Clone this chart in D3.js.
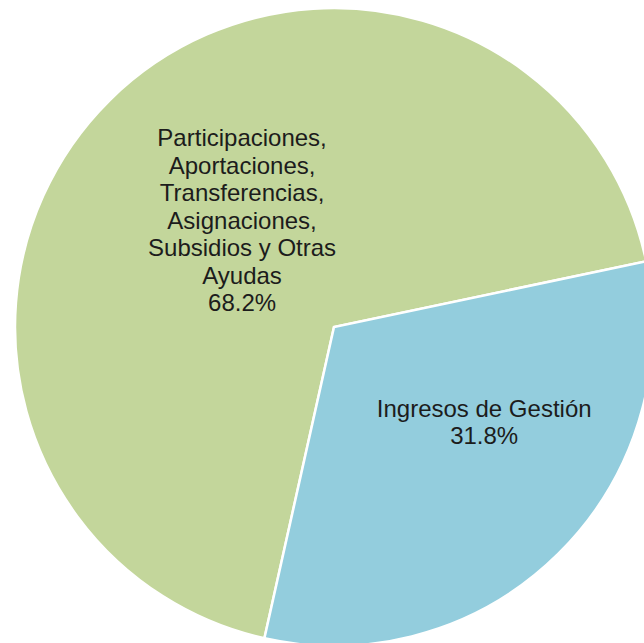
<!DOCTYPE html>
<html>
<head>
<meta charset="utf-8">
<script src="https://cdn.jsdelivr.net/npm/d3@7"></script>
<style>
  html, body { margin: 0; padding: 0; background: #ffffff; }
  svg { display: block; }
</style>
</head>
<body>
<svg id="chart" width="644" height="643"></svg>
<script>
// ---- data ----
const categories = [
  "Participaciones, Aportaciones, Transferencias, Asignaciones, Subsidios y Otras Ayudas",
  "Ingresos de Gestión"
];
const values = [68.2, 31.8];
const labelLines = [
  ["Participaciones,", "Aportaciones,", "Transferencias,", "Asignaciones,", "Subsidios y Otras", "Ayudas"],
  ["Ingresos de Gestión"]
];
const colors = ["#c3d69b", "#93cddd"];

// ---- layout ----
const W = 644, H = 643;
const cx = 334, cy = 327, R = 319;
const startDeg = -167.4;
// label anchor (polar, relative to pie centre: angle in degrees clockwise from 12 o'clock, radius as fraction of R)
const labelPolar = [ { a: -40.7, r: 0.442 }, { a: 122.3, r: 0.557 } ];
const fontSize = 24, lineH = 27.5;

const svg = d3.select("#chart");
const g = svg.append("g").attr("transform", `translate(${cx},${cy})`);

const pie = d3.pie().sort(null).value(d => d)
  .startAngle(startDeg * Math.PI / 180)
  .endAngle(startDeg * Math.PI / 180 + 2 * Math.PI);
const arcs = pie(values);
const arc = d3.arc().innerRadius(0).outerRadius(R);

g.selectAll("path.slice")
  .data(arcs)
  .join("path")
  .attr("class", "slice")
  .attr("d", arc)
  .attr("fill", (d, i) => colors[i])
  .attr("stroke", "#ffffff")
  .attr("stroke-width", 2.5)
  .attr("stroke-linejoin", "miter");

const fmt = v => v.toFixed(1) + "%";

arcs.forEach((d, i) => {
  const lp = labelPolar[i];
  const ang = lp.a * Math.PI / 180;
  const x = Math.sin(ang) * lp.r * R;
  const y = -Math.cos(ang) * lp.r * R;
  const lines = labelLines[i].concat([fmt(values[i])]);
  const n = lines.length;
  const t = g.append("text")
    .attr("text-anchor", "middle")
    .attr("font-family", "Liberation Sans, Arial, sans-serif")
    .attr("font-size", fontSize)
    .attr("fill", "#1c1c1c");
  lines.forEach((ln, k) => {
    t.append("tspan")
      .attr("x", x)
      .attr("y", y + (k - (n - 1) / 2) * lineH + fontSize * 0.35)
      .text(ln);
  });
});
</script>
</body>
</html>
